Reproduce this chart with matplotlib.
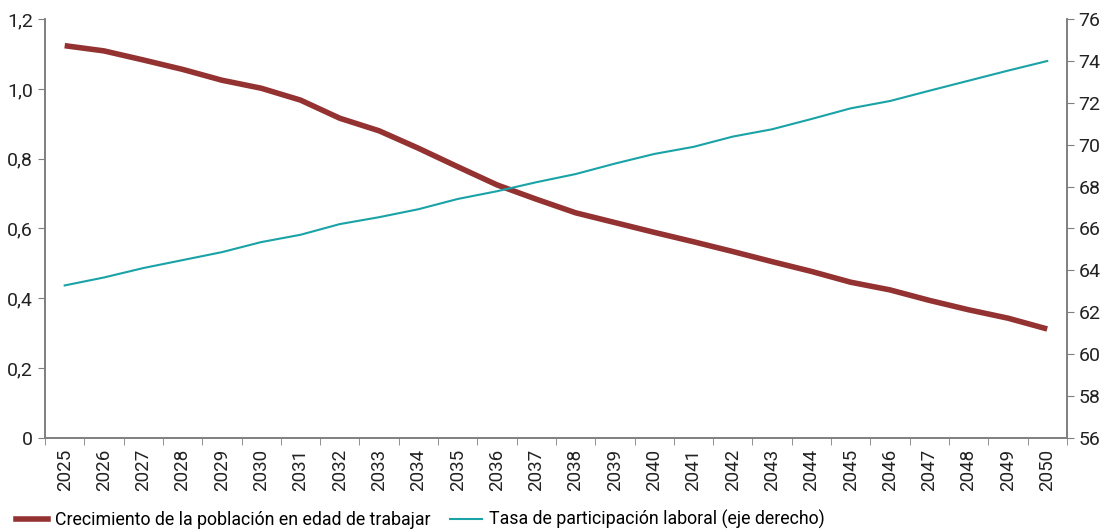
import numpy as np
import matplotlib.pyplot as plt
from matplotlib.ticker import FixedLocator, FuncFormatter
from matplotlib.lines import Line2D

years = list(range(2025, 2051))

# crecimiento de la poblacion en edad de trabajar (eje izquierdo)
crecimiento = [1.124, 1.109, 1.083, 1.056, 1.025, 1.002, 0.968, 0.916, 0.880, 0.830,
               0.777, 0.725, 0.684, 0.645, 0.617, 0.589, 0.562, 0.534, 0.505, 0.477,
               0.446, 0.424, 0.394, 0.367, 0.343, 0.312]

# tasa de participacion laboral (eje derecho)
participacion = [63.28, 63.66, 64.11, 64.49, 64.87, 65.35, 65.70, 66.21, 66.54, 66.92,
                 67.41, 67.78, 68.21, 68.60, 69.10, 69.56, 69.90, 70.39, 70.74, 71.23,
                 71.74, 72.09, 72.58, 73.06, 73.54, 74.00]

red = "#943232"
teal = "#1aa3a6"
grey = "#7f7f7f"

plt.rcParams['font.family'] = ['Roboto', 'DejaVu Sans']

fig = plt.figure(figsize=(11.09, 5.32), dpi=100)
ax = fig.add_axes([0.0406, 0.177, 0.9214, 0.787])
ax2 = ax.twinx()

x = np.arange(len(years))
ax.plot(x, crecimiento, color=red, lw=4, solid_capstyle="butt", zorder=3)
ax2.plot(x, participacion, color=teal, lw=1.5)

ax.set_xlim(-0.5, len(years) - 0.5)
ax.set_ylim(0, 1.2)
ax2.set_ylim(56, 76)
ax.set_yticks(np.arange(0, 1.21, 0.2))
ax.yaxis.set_major_formatter(FuncFormatter(lambda v, p: "0" if v == 0 else f"{v:.1f}".replace(".", ",")))
ax2.set_yticks(np.arange(56, 77, 2))

ax.set_xticks(x)
ax.set_xticklabels([str(y) for y in years], rotation=90)
ax.xaxis.set_minor_locator(FixedLocator(np.arange(-0.5, len(years), 1.0)))
ax.tick_params(axis="x", which="major", length=0, pad=8, labelsize=13.5, labelcolor="#222222")
ax.tick_params(axis="x", which="minor", length=5, color=grey)
ax.tick_params(axis="y", length=5, color=grey, labelsize=14, labelcolor="#222222")
ax2.tick_params(axis="y", length=5, color=grey, labelsize=14, labelcolor="#222222")

for a in (ax, ax2):
    a.spines["top"].set_visible(False)
    for s in ("left", "right", "bottom"):
        a.spines[s].set_color(grey)
        a.spines[s].set_linewidth(1.2)

handles = [Line2D([], [], color=red, lw=4),
           Line2D([], [], color=teal, lw=1.5)]
labels = ["Crecimiento de la población en edad de trabajar",
          "Tasa de participación laboral (eje derecho)"]
fig.legend(handles, labels, loc="lower left", bbox_to_anchor=(0.0, -0.025), ncol=2,
           frameon=False, fontsize=12.8, handlelength=1.8, handletextpad=0.4,
           columnspacing=1.1)

fig.savefig("out.png", dpi=100)
